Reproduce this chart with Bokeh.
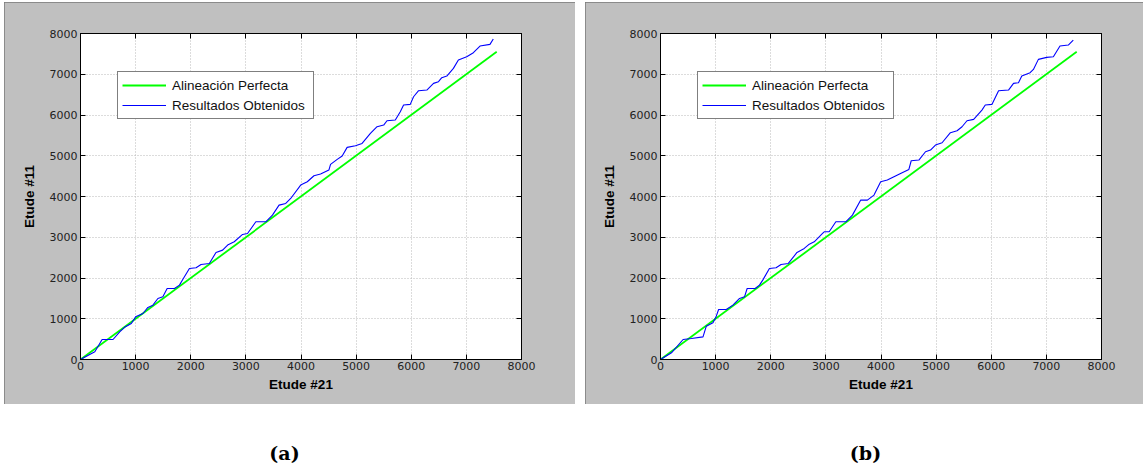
from bokeh.plotting import figure
from bokeh.models import LinearAxis, FixedTicker, Range1d, Spacer, InlineStyleSheet
from bokeh.layouts import row, column
from bokeh.embed import file_html
from bokeh.resources import INLINE
from bokeh.core.properties import value

# ---------------- data ----------------
perfect_x = [0, 7550]
perfect_y = [0, 7550]

a_x = [0, 150, 260, 392, 590, 711, 800, 922, 1000, 1132, 1223, 1313, 1404, 1494, 1572, 1705,
       1795, 1855, 1976, 2096, 2187, 2337, 2458, 2578, 2669, 2789, 2940, 3030, 3181, 3361,
       3482, 3602, 3723, 3813, 3994, 4114, 4235, 4355, 4506, 4536, 4657, 4747, 4837, 4988,
       5108, 5259, 5380, 5500, 5560, 5711, 5801, 5861, 5982, 6042, 6133, 6283, 6404, 6494,
       6554, 6645, 6765, 6855, 7006, 7127, 7247, 7428, 7488]
a_y = [0, 110, 190, 491, 491, 679, 790, 884, 1047, 1129, 1277, 1334, 1498, 1538, 1743, 1743,
       1825, 1964, 2234, 2250, 2332, 2357, 2627, 2684, 2807, 2889, 3069, 3093, 3380, 3380,
       3543, 3789, 3830, 3952, 4280, 4362, 4509, 4550, 4648, 4787, 4910, 4992, 5205, 5245,
       5303, 5548, 5712, 5753, 5859, 5876, 6080, 6244, 6260, 6448, 6596, 6612, 6776, 6817,
       6915, 6956, 7144, 7348, 7430, 7528, 7692, 7733, 7864]

b_x = [0, 199, 410, 560, 771, 831, 952, 1012, 1054, 1193, 1313, 1434, 1524, 1572, 1717, 1795,
       1855, 1976, 2096, 2187, 2319, 2476, 2608, 2699, 2789, 2940, 2970, 3060, 3181, 3361,
       3482, 3632, 3753, 3873, 3994, 4114, 4235, 4355, 4506, 4548, 4687, 4807, 4898, 4988,
       5108, 5259, 5380, 5470, 5560, 5681, 5831, 5892, 6012, 6133, 6313, 6404, 6494, 6554,
       6705, 6765, 6855, 7006, 7127, 7247, 7398, 7488]
b_y = [0, 164, 491, 516, 556, 818, 900, 1064, 1227, 1227, 1334, 1498, 1538, 1743, 1743, 1825,
       1948, 2234, 2250, 2332, 2357, 2627, 2725, 2831, 2889, 3093, 3134, 3134, 3380, 3380,
       3543, 3912, 3912, 4034, 4362, 4403, 4485, 4566, 4664, 4877, 4894, 5098, 5139, 5262,
       5319, 5565, 5614, 5712, 5859, 5892, 6121, 6244, 6260, 6596, 6612, 6776, 6792, 6956,
       7038, 7119, 7365, 7414, 7430, 7692, 7717, 7839]

ticks = [0, 1000, 2000, 3000, 4000, 5000, 6000, 7000, 8000]
x_label = "Etude #21"
y_label = "Etude #11"
series_names = ["Alineación Perfecta", "Resultados Obtenidos"]
captions = ["(a)", "(b)"]

GRAY = "#c0c0c0"
TICK_FONT = "DejaVu Sans"
LABEL_FONT = "Liberation Sans"

box_css = InlineStyleSheet(css=":host { outline: 1px solid #7a7a7a; outline-offset: -1px; }")


def style_axis(ax, show_labels=True):
    ax.ticker = FixedTicker(ticks=ticks)
    ax.major_tick_in = 5
    ax.major_tick_out = 0
    ax.minor_tick_line_color = None
    ax.axis_line_color = "black"
    ax.major_tick_line_color = "black"
    ax.major_label_text_font = TICK_FONT
    ax.major_label_text_font_size = "11px"
    ax.major_label_text_color = "#222222"
    ax.major_label_standoff = 3
    if not show_labels:
        ax.major_label_text_font_size = "0px"
        ax.major_label_text_alpha = 0


def panel(xs, ys, width, left, right):
    p = figure(width=width, height=402, output_backend="svg", toolbar_location=None,
               x_range=Range1d(0, 8000), y_range=Range1d(0, 8000),
               min_border_left=left, min_border_right=right,
               min_border_top=31, min_border_bottom=45,
               border_fill_color=GRAY, background_fill_color="white",
               outline_line_color="black", stylesheets=[box_css])
    p.line(perfect_x, perfect_y, line_color="#00ff00", line_width=1.8,
           legend_label=series_names[0])
    p.line(xs, ys, line_color="#0000ff", line_width=1.1,
           legend_label=series_names[1])

    for ax in p.xaxis:
        style_axis(ax)
        ax.major_label_standoff = 2
        ax.axis_label = x_label
        ax.axis_label_standoff = 4
    for ax in p.yaxis:
        style_axis(ax)
        ax.axis_label = y_label
        ax.axis_label_standoff = 10
    for ax in list(p.xaxis) + list(p.yaxis):
        ax.axis_label_text_font = LABEL_FONT
        ax.axis_label_text_font_style = "bold"
        ax.axis_label_text_font_size = "13.5px"
        ax.axis_label_text_color = "black"

    top = LinearAxis()
    style_axis(top, show_labels=False)
    p.add_layout(top, "above")
    rgt = LinearAxis()
    style_axis(rgt, show_labels=False)
    p.add_layout(rgt, "right")

    p.grid.ticker = FixedTicker(ticks=ticks)
    p.grid.grid_line_color = "#b8b8b8"
    p.grid.grid_line_dash = "1 2"
    p.grid.grid_line_width = 1

    lg = p.legend[0]
    lg.location = (37, 240)
    lg.padding = 4
    lg.spacing = 2
    lg.margin = 0
    lg.label_height = 18
    lg.glyph_height = 18
    lg.glyph_width = 44
    lg.label_standoff = 6
    lg.label_width = 137
    lg.label_text_font = LABEL_FONT
    lg.label_text_font_size = "13.5px"
    lg.label_text_color = "#111111"
    lg.border_line_color = "black"
    lg.border_line_width = 1
    lg.background_fill_color = "white"
    lg.background_fill_alpha = 1
    return p


pa = panel(a_x, a_y, 571, 76, 54)
pb = panel(b_x, b_y, 558, 75, 42)

cap = figure(width=1143, height=62, output_backend="svg", toolbar_location=None,
             x_range=Range1d(0, 1143), y_range=Range1d(62, 0),
             x_axis_type=None, y_axis_type=None, min_border=0,
             outline_line_color=None, border_fill_color="white",
             background_fill_color="white")
cap.grid.visible = False
cap.text(x=[284, 865], y=[48, 48], text=captions, text_align="center",
         text_baseline="middle", text_font=value("DejaVu Serif"),
         text_font_style="bold", text_font_size="19px", text_color="black")

layout = column(
    Spacer(width=1143, height=2),
    row(Spacer(width=4, height=402), pa, Spacer(width=10, height=402), pb),
    cap,
)

open("out.html", "w").write(file_html(layout, INLINE))
